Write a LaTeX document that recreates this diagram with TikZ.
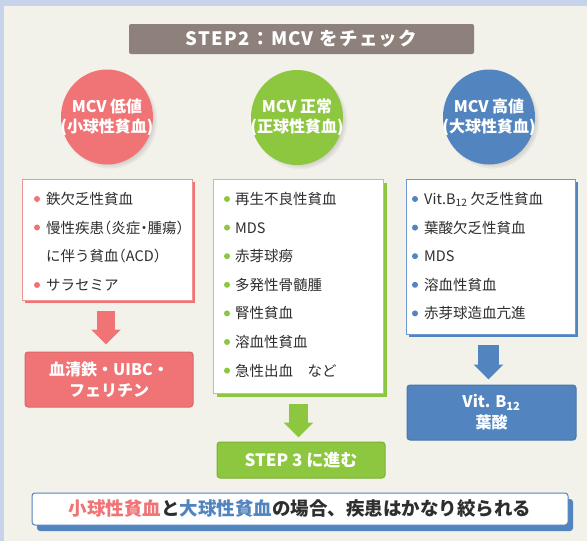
\documentclass[tikz,border=0pt]{standalone}
\usepackage{fontspec}
\setmainfont{Noto Sans CJK JP}
\usetikzlibrary{shapes.geometric,shadows,arrows.meta,calc}
\definecolor{bg}{HTML}{F2F1EA}
\definecolor{band}{HTML}{C6D3EA}
\definecolor{hdrc}{HTML}{8E807A}
\definecolor{redc}{HTML}{F07375}
\definecolor{redd}{HTML}{D9676A}
\definecolor{redl}{HTML}{F19496}
\definecolor{grnc}{HTML}{8DC63F}
\definecolor{grnd}{HTML}{7DB236}
\definecolor{grnl}{HTML}{A9D46F}
\definecolor{bluc}{HTML}{5284BF}
\definecolor{blud}{HTML}{4A76AB}
\definecolor{blul}{HTML}{6F98CC}
\definecolor{txt}{HTML}{2E2E2E}
\begin{document}
\begin{tikzpicture}[x=1pt,y=-1pt,
  hdr/.style={fill=hdrc, rounded corners=2pt, minimum width=345pt, minimum height=30pt, inner sep=0pt, text=white, font=\fontsize{18.5}{20}\selectfont\bfseries\addfontfeature{LetterSpace=7}},
  circ/.style={ellipse, minimum width=92pt, minimum height=95pt, inner sep=0pt,
    circular drop shadow={shadow xshift=3pt, shadow yshift=-3pt, shadow scale=1.03, opacity=0.35}},
  circtxt/.style={align=center, text=white, inner sep=0pt, font=\fontsize{16}{20}\selectfont\bfseries},
  lbox/.style={fill=white, line width=0.8pt, inner sep=0pt},
  item/.style={anchor=base west, inner sep=0pt, text=txt, font=\fontsize{14.5}{16}\selectfont},
  hw/.style={font=\fontsize{14.5}{16}\selectfont\addfontfeature{RawFeature=+halt}},
  resbox/.style={rounded corners=3pt, line width=1pt, inner sep=0pt, text=white, align=center, font=\fontsize{16}{21}\selectfont\bfseries},
  blockarrow/.style={line width=#1, -{Triangle[width=29pt,length=15pt]}},
]
\useasboundingbox (0,0) rectangle (587,541);
\fill[bg] (0,0) rectangle (587,541);
\fill[band] (0,0) rectangle (587,6);
\fill[band] (0,0) rectangle (4,541);

% header
\node[hdr] (hd) at (301.5,39) {STEP2：MCV をチェック};

% circles
\node[circ, fill=redc] (c1) at (107,117) {};
\node[circtxt] (c1t) at (c1) {MCV 低値\\(小球性貧血)};
\node[circ, fill=grnc] (c2) at (297,117.5) {};
\node[circtxt] (c2t) at (c2) {MCV 正常\\(正球性貧血)};
\node[circ, fill=bluc] (c3) at (489,117) {};
\node[circtxt] (c3t) at (c3) {MCV 高値\\(大球性貧血)};

% list boxes
\node[lbox, draw=redl, minimum width=170pt, minimum height=121pt,
  drop shadow={shadow xshift=3pt, shadow yshift=-3pt, fill=redc, opacity=1}] (rl) at (107,239.5) {};
\node[lbox, draw=grnl, minimum width=170pt, minimum height=214pt,
  drop shadow={shadow xshift=4pt, shadow yshift=-4pt, fill=grnc, opacity=1}] (gl) at (298,286) {};
\node[lbox, draw=blul, minimum width=169pt, minimum height=155pt,
  drop shadow={shadow xshift=3pt, shadow yshift=-3pt, fill=bluc, opacity=1}] (bl) at (490.5,256.5) {};

% red items
\fill[redc] (37,199) circle (3);
\node[item] (r1) at (46,204.5) {鉄欠乏性貧血};
\fill[redc] (37,227.5) circle (3);
\node[item, hw] (r2) at (46,233) {慢性疾患（炎症・腫瘍）};
\node[item, hw] (r3) at (46,261.5) {に伴う貧血（ACD）};
\fill[redc] (37,285) circle (3);
\node[item] (r4) at (46,290.5) {サラセミア};

% green items
\foreach \t [count=\i] in {再生不良性貧血,MDS,赤芽球癆,多発性骨髄腫,腎性貧血,溶血性貧血,急性出血　など}{
  \fill[grnc] (227,{199+28.6*(\i-1)}) circle (3);
  \node[item] (g\i) at (235,{204.5+28.6*(\i-1)}) {\t};
}

% blue items
\foreach \t [count=\i] in {Vit.B\textsubscript{12} 欠乏性貧血,葉酸欠乏性貧血,MDS,溶血性貧血,赤芽球造血亢進}{
  \fill[bluc] (415,{199+28.6*(\i-1)}) circle (3);
  \node[item] (b\i) at (424,{204.5+28.6*(\i-1)}) {\t};
}

% result boxes
\node[resbox, fill=redc, draw=redd, minimum width=168pt, minimum height=55pt] (rr) at (109,379.5) {血清鉄・UIBC・\\フェリチン};
\node[resbox, fill=grnc, draw=grnd, minimum width=168pt, minimum height=36pt, font=\fontsize{17}{20}\selectfont\bfseries] (gr) at (301,460) {STEP 3 に進む};
\node[resbox, fill=bluc, draw=blud, minimum width=169pt, minimum height=55pt] (br) at (491.5,412.5) {Vit. B\textsubscript{12}\\葉酸};

% arrows
\draw[blockarrow=18pt, redc] ($(rl.south)+(-1,11)$) -- ($(rr.north)+(-3,-7)$);
\draw[blockarrow=19pt, grnc] ($(gl.south)+(0.5,11)$) -- ($(gr.north)+(-2.5,-4)$);
\draw[blockarrow=21pt, bluc] ($(bl.south)+(-2,11)$) -- ($(br.north)+(-3,-5)$);

% bottom box
\node[fill=white, draw=bluc, line width=1pt, rounded corners=3pt, minimum width=536pt, minimum height=32pt, inner sep=0pt,
  drop shadow={shadow xshift=5pt, shadow yshift=-6pt, fill=bluc, opacity=1}] (bt) at (300,509) {};
\node[inner sep=0pt, text=txt, font=\fontsize{18.5}{20}\selectfont\bfseries] (btt) at (bt) {{\color{redc}小球性貧血}と{\color{bluc}大球性貧血}の場合、疾患はかなり絞られる};
\end{tikzpicture}
\end{document}
